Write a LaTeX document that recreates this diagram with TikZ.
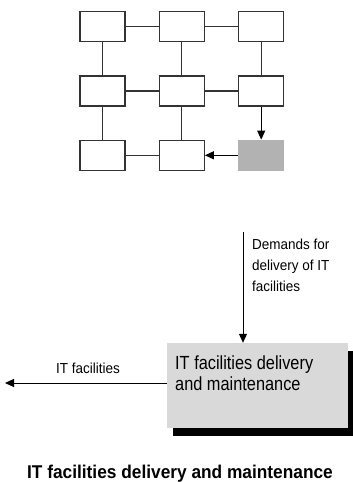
\documentclass[tikz,border=0pt]{standalone}
\usepackage{fontspec}
\setmainfont{Liberation Sans}
\newfontfamily\labelfont[FakeStretch=0.93]{Liberation Sans}
\newfontfamily\boxfont[FakeStretch=0.86]{Liberation Sans}
\newfontfamily\titlefont[FakeStretch=0.935]{Liberation Sans}
\usetikzlibrary{arrows.meta,shadows}
\tikzset{
  cell/.style={draw=black!80, line width=1.1pt, minimum width=45pt, minimum height=30pt, inner sep=0pt, fill=white},
  graycell/.style={fill=black!30, minimum width=46pt, minimum height=31pt, inner sep=0pt},
  link/.style={draw=black!80, line width=1.1pt},
  arr/.style={draw=black, line width=1pt, -{Triangle[length=9pt,width=8pt]}},
  lbl/.style={inner sep=0pt, align=left, font=\labelfont\fontsize{14.5}{21}\selectfont},
  facbox/.style={fill=black!15, minimum width=181pt, minimum height=85pt, inner sep=0pt,
    general shadow={fill=black, shadow xshift=6pt, shadow yshift=-8pt}},
}
\begin{document}
\begin{tikzpicture}[x=1pt,y=-1pt]
\useasboundingbox (0,0) rectangle (353,482);
% grid
\node[cell] (a1) at (102.5,26.7) {};
\node[cell] (a2) at (181.8,26.7) {};
\node[cell] (a3) at (261.2,26.7) {};
\node[cell] (b1) at (102.5,91) {};
\node[cell] (b2) at (181.8,91) {};
\node[cell] (b3) at (261.2,91) {};
\node[cell] (c1) at (102.5,155.3) {};
\node[cell] (c2) at (181.8,155.3) {};
\node[graycell] (c3) at (261.2,155.3) {};
\draw[link] (a1) -- (a2);
\draw[link] (a2) -- (a3);
\draw[link] (b1) -- (b2);
\draw[link] (b2) -- (b3);
\draw[link] (c1) -- (c2);
\draw[link] (a1) -- (b1);
\draw[link] (a2) -- (b2);
\draw[link] (a3) -- (b3);
\draw[link] (b1) -- (c1);
\draw[link] (b2) -- (c2);
\draw[arr] (b3) -- (c3);
\draw[arr] (c3) -- (c2);
% lower part
\node[facbox] (fac) at (257.5,385.5) {};
\node[inner sep=0pt, anchor=base west, align=left, font=\boxfont\fontsize{19}{20.5}\selectfont] (factext) at (175,390)
  {IT facilities delivery\\and maintenance};
\coordinate (dstart) at (243,232);
\draw[arr] (dstart) -- (dstart |- fac.north);
\node[lbl, anchor=base west] (demand) at (252,291) {Demands for\\delivery of IT\\facilities};
\coordinate (outend) at (5,383);
\draw[arr] (fac.west |- outend) -- (outend);
\node[lbl, anchor=base] (outlbl) at (88,373) {IT facilities};
\node[inner sep=0pt, anchor=base, font=\titlefont\bfseries\fontsize{18.5}{22}\selectfont] (title) at (180,478)
  {IT facilities delivery and maintenance};
\end{tikzpicture}
\end{document}
